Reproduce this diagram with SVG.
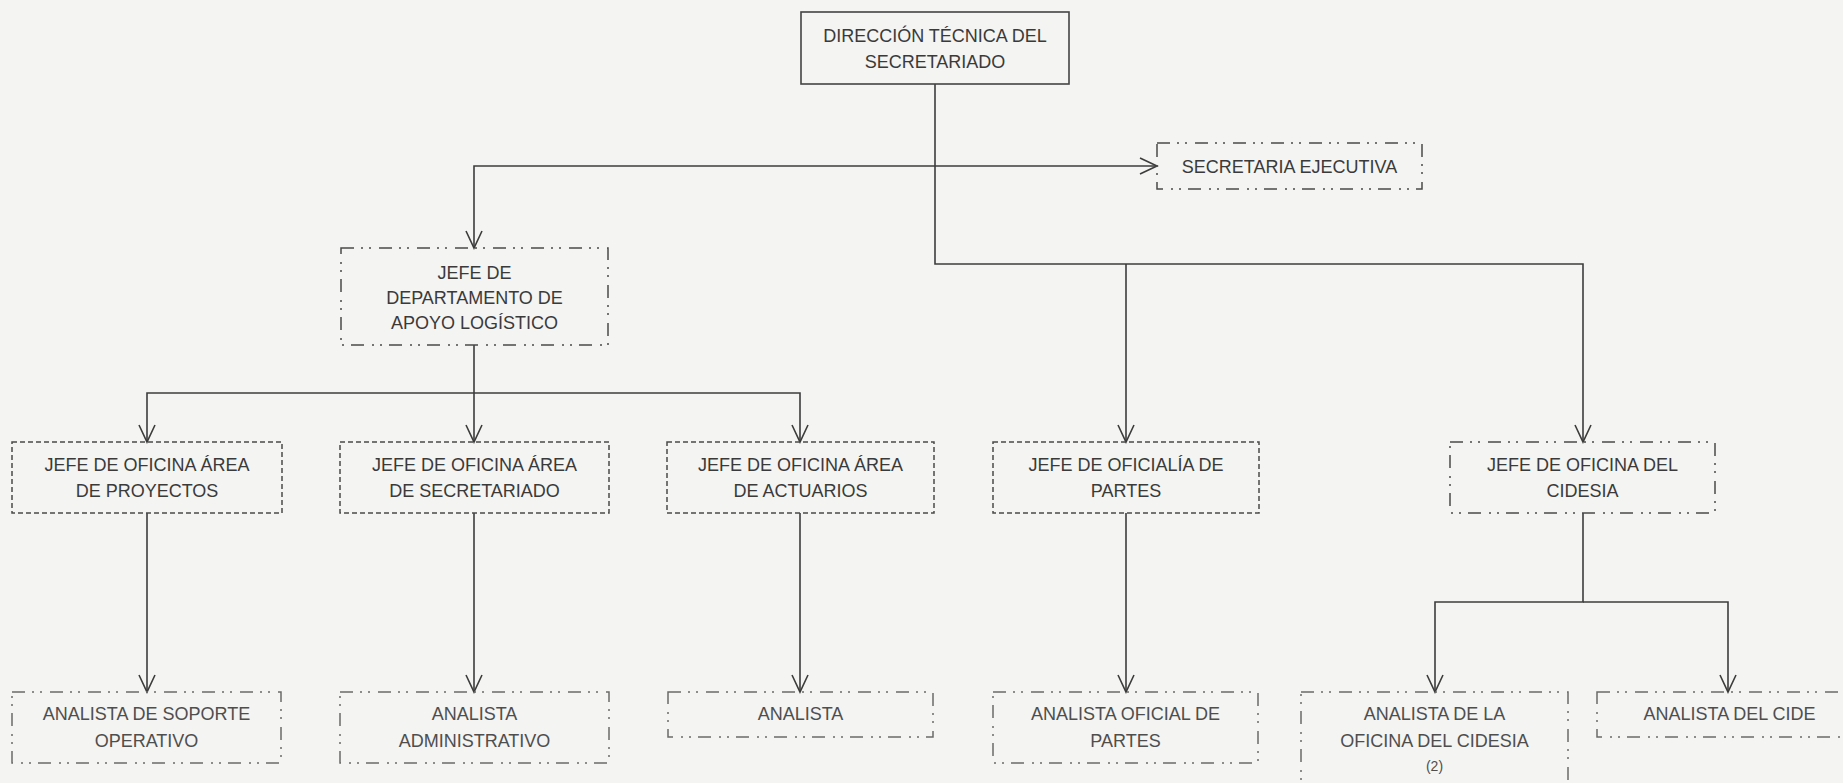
<svg xmlns="http://www.w3.org/2000/svg" width="1843" height="783" viewBox="0 0 1843 783">
<defs>
<style>
.bg{fill:#f4f4f2}
.box{fill:none;stroke:#4a4a4a;stroke-width:1.5}
.solid{stroke:#444;stroke-width:1.6}
.dash{stroke-dasharray:5 3}
.dd{stroke-dasharray:13 7 2 6 2 8}
.dd3{stroke:#6a6a6a;stroke-dasharray:13 7 2 6 2 8}
.t{font-family:"Liberation Sans",Arial,sans-serif;font-size:18px;fill:#3a3a3a;text-anchor:middle}
.t3{fill:#4e4e4e}
.small{font-size:14px}
.conn{fill:none;stroke:#3c3c3c;stroke-width:1.6}
</style>
<marker id="arr" viewBox="-19 -10 21 20" refX="0" refY="0" markerWidth="21" markerHeight="20" markerUnits="userSpaceOnUse" orient="auto" overflow="visible">
<path d="M-17,-8 L0,0 L-17,8" fill="none" stroke="#3c3c3c" stroke-width="1.6"/>
</marker>
</defs>
<rect class="bg" x="0" y="0" width="1843" height="783"/>

<g id="connectors">
<path class="conn" d="M935,84 V264 H1583 V442" marker-end="url(#arr)"/>
<path class="conn" d="M1126,264 V442" marker-end="url(#arr)"/>
<path class="conn" d="M935,166 H1157" marker-end="url(#arr)"/>
<path class="conn" d="M935,166 H474 V248" marker-end="url(#arr)"/>
<path class="conn" d="M474,345 V442" marker-end="url(#arr)"/>
<path class="conn" d="M474,393 H147 V442" marker-end="url(#arr)"/>
<path class="conn" d="M474,393 H800 V442" marker-end="url(#arr)"/>
<path class="conn" d="M147,513 V692" marker-end="url(#arr)"/>
<path class="conn" d="M474,513 V692" marker-end="url(#arr)"/>
<path class="conn" d="M800,513 V692" marker-end="url(#arr)"/>
<path class="conn" d="M1126,513 V692" marker-end="url(#arr)"/>
<path class="conn" d="M1583,513 V602 H1435 V692" marker-end="url(#arr)"/>
<path class="conn" d="M1583,602 H1728 V692" marker-end="url(#arr)"/>
</g>

<g id="n-direccion">
<rect class="box solid" x="801" y="12" width="268" height="72"/>
<text class="t" x="935" y="42">DIRECCIÓN TÉCNICA DEL</text>
<text class="t" x="935" y="68">SECRETARIADO</text>
</g>

<g id="n-secretaria">
<rect class="box dd" x="1157" y="143" width="265" height="46"/>
<text class="t" x="1289.5" y="173">SECRETARIA EJECUTIVA</text>
</g>

<g id="n-depto">
<rect class="box dd" x="341" y="248" width="267" height="97"/>
<text class="t" x="474.5" y="279">JEFE DE</text>
<text class="t" x="474.5" y="304">DEPARTAMENTO DE</text>
<text class="t" x="474.5" y="329">APOYO LOGÍSTICO</text>
</g>

<g id="n-proyectos">
<rect class="box dash" x="12" y="442" width="270" height="71"/>
<text class="t" x="147" y="471">JEFE DE OFICINA ÁREA</text>
<text class="t" x="147" y="497">DE PROYECTOS</text>
</g>

<g id="n-secretariado">
<rect class="box dash" x="340" y="442" width="269" height="71"/>
<text class="t" x="474.5" y="471">JEFE DE OFICINA ÁREA</text>
<text class="t" x="474.5" y="497">DE SECRETARIADO</text>
</g>

<g id="n-actuarios">
<rect class="box dash" x="667" y="442" width="267" height="71"/>
<text class="t" x="800.5" y="471">JEFE DE OFICINA ÁREA</text>
<text class="t" x="800.5" y="497">DE ACTUARIOS</text>
</g>

<g id="n-oficialia">
<rect class="box dash" x="993" y="442" width="266" height="71"/>
<text class="t" x="1126" y="471">JEFE DE OFICIALÍA DE</text>
<text class="t" x="1126" y="497">PARTES</text>
</g>

<g id="n-cidesia">
<rect class="box dd" x="1450" y="442" width="265" height="71"/>
<text class="t" x="1582.5" y="471">JEFE DE OFICINA DEL</text>
<text class="t" x="1582.5" y="497">CIDESIA</text>
</g>

<g id="n-soporte">
<rect class="box dd3" x="12" y="692" width="269" height="71"/>
<text class="t t3" x="146.5" y="720">ANALISTA DE SOPORTE</text>
<text class="t t3" x="146.5" y="747">OPERATIVO</text>
</g>

<g id="n-administrativo">
<rect class="box dd3" x="340" y="692" width="269" height="71"/>
<text class="t t3" x="474.5" y="720">ANALISTA</text>
<text class="t t3" x="474.5" y="747">ADMINISTRATIVO</text>
</g>

<g id="n-analista">
<rect class="box dd3" x="668" y="692" width="265" height="45"/>
<text class="t t3" x="800.5" y="720">ANALISTA</text>
</g>

<g id="n-analista-oficial">
<rect class="box dd3" x="993" y="692" width="265" height="71"/>
<text class="t t3" x="1125.5" y="720">ANALISTA OFICIAL DE</text>
<text class="t t3" x="1125.5" y="747">PARTES</text>
</g>

<g id="n-analista-cidesia">
<rect class="box dd3" x="1301" y="692" width="267" height="110"/>
<text class="t t3" x="1434.5" y="720">ANALISTA DE LA</text>
<text class="t t3" x="1434.5" y="747">OFICINA DEL CIDESIA</text>
<text class="t t3 small" x="1434.5" y="771">(2)</text>
</g>

<g id="n-analista-cide">
<rect class="box dd3" x="1597" y="692" width="265" height="45"/>
<text class="t t3" x="1729.5" y="720">ANALISTA DEL CIDE</text>
</g>
</svg>
